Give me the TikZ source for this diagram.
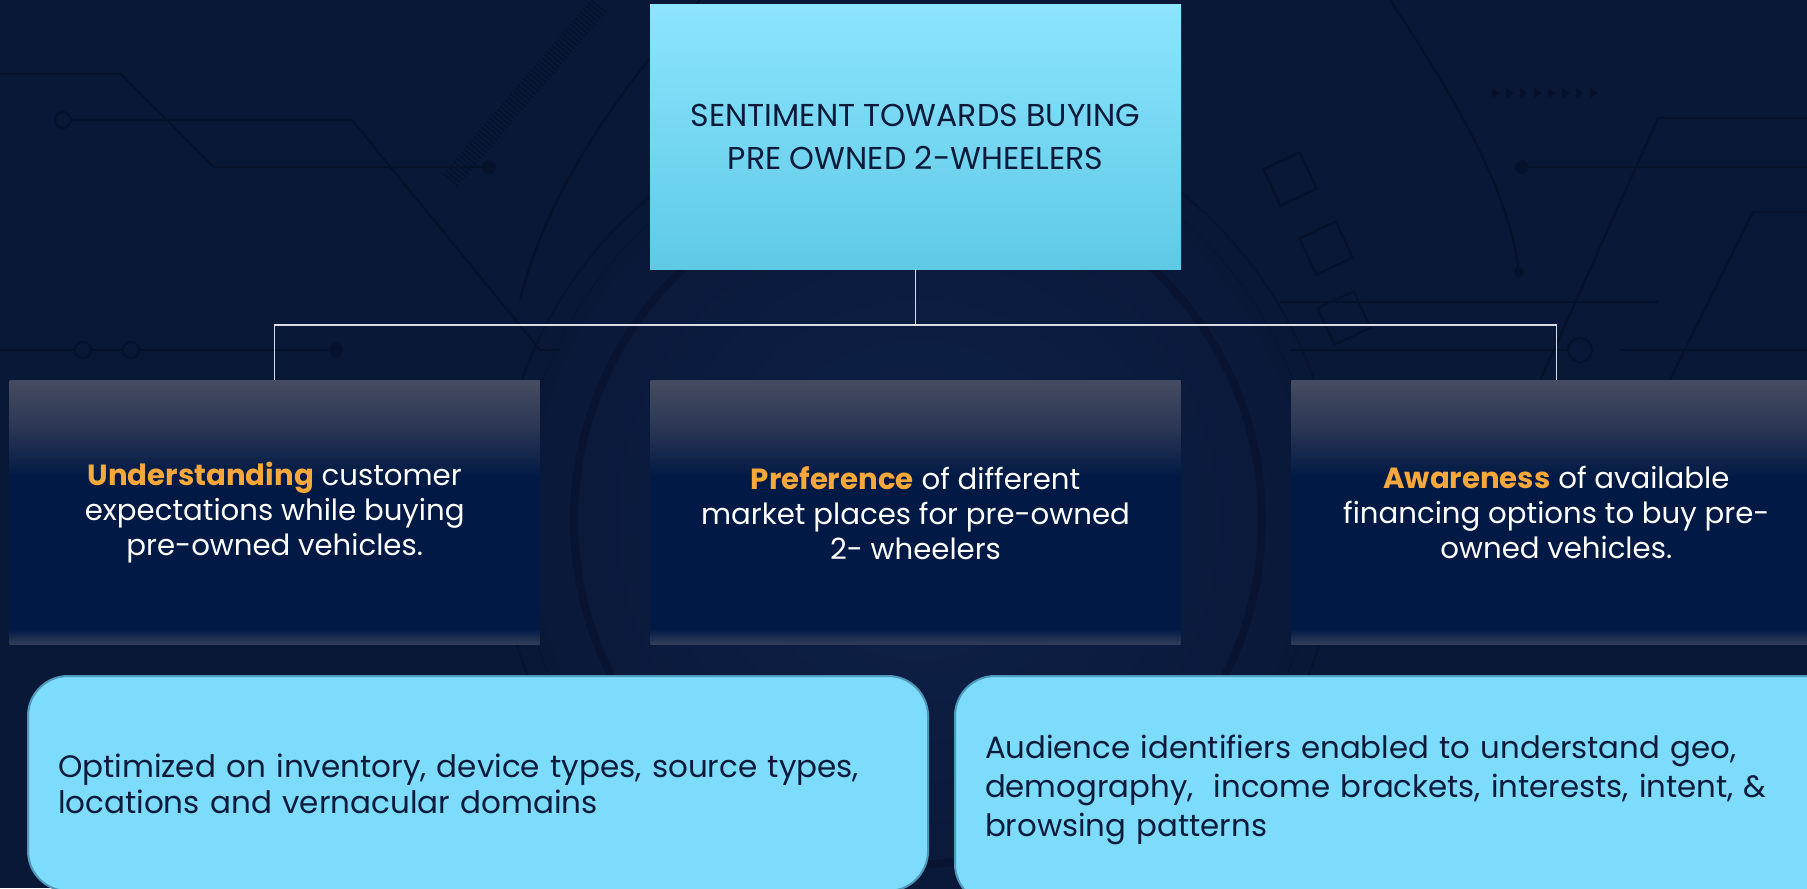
\documentclass[tikz,border=0pt]{standalone}
\usepackage{fontspec}
\setmainfont{Poppins}
\usetikzlibrary{positioning,calc}

\definecolor{bgnavy}{HTML}{0A1838}
\definecolor{glow}{HTML}{0E2248}
\definecolor{trace}{HTML}{06112C}
\definecolor{skytop}{HTML}{8CE4FE}
\definecolor{skybot}{HTML}{5FCAE6}
\definecolor{inkblue}{HTML}{0D1B3B}
\definecolor{cardtop}{HTML}{454C61}
\definecolor{cardmid}{HTML}{2B3653}
\definecolor{carddeep}{HTML}{011A45}
\definecolor{cardrim}{HTML}{343F5A}
\definecolor{accent}{HTML}{F7A83B}
\definecolor{panelfill}{HTML}{7DDCFC}
\definecolor{panelline}{HTML}{4E98BA}
\definecolor{wirecol}{HTML}{D9DEE6}

% dark card: grey top fading into navy, thin lighter rim at the bottom
\pgfdeclareverticalshading{cardshade}{100bp}{color(0bp)=(cardrim); color(25bp)=(cardrim);
  color(28bp)=(carddeep); color(57bp)=(carddeep); color(66bp)=(cardmid);
  color(75bp)=(cardtop); color(100bp)=(cardtop)}

\tikzset{
  headbox/.style={minimum width=265.5pt, minimum height=132pt, inner sep=0pt,
    top color=skytop, bottom color=skybot, text=inkblue, align=center,
    font=\fontsize{15.8}{21.5}\selectfont},
  card/.style={minimum width=265pt, minimum height=132pt, inner sep=0pt,
    shading=cardshade, text=white, align=center,
    font=\fontsize{14.6}{17.5}\selectfont},
  panel/.style={rounded corners=20pt, fill=panelfill, draw=panelline, line width=1pt,
    minimum height=107.5pt, inner xsep=15pt, text width=420pt, align=left,
    text=inkblue},
  wire/.style={wirecol, line width=0.7pt},
  tracks/.style={trace, line width=1.1pt},
}

\begin{document}
\begin{tikzpicture}[x=0.5pt, y=-0.5pt]
  \useasboundingbox (0,0) rectangle (1807,888);
  \clip (0,0) rectangle (1807,888);
  \fill[bgnavy] (0,0) rectangle (1807,888);

  % circuit board backdrop
  \fill[inner color=glow, outer color=bgnavy] (918,520) circle (200pt);
  \draw[trace, line width=4pt, opacity=0.6] (918,520) circle (172pt);
  \draw[tracks, opacity=0.7] (918,520) circle (210pt);
  \draw[trace, line width=10pt, dash pattern=on 0.6pt off 1.4pt] (450,180) -- (600,4);
  \draw[tracks] (0,74) -- (121,74) -- (214,167) -- (488,167);
  \fill[trace] (489,167) circle (3.5pt);
  \draw[tracks] (63,120) circle (4pt);
  \draw[tracks] (71,120) -- (352,120) -- (540,350) -- (560,350);
  \draw[tracks] (0,350) -- (75,350);
  \draw[tracks] (83,350) circle (4pt);
  \draw[tracks] (91,350) -- (123,350);
  \draw[tracks] (131,350) circle (4pt);
  \draw[tracks] (139,350) -- (336,350);
  \fill[trace] (336,350) circle (3.5pt);
  \draw[tracks] (1522,167) -- (1807,167);
  \fill[trace] (1522,167) circle (3.5pt);
  \fill[trace] (1519,272) circle (2.5pt);
  \draw[tracks] (1807,118) -- (1658,118) -- (1500,470);
  \draw[tracks] (1807,212) -- (1753,212) -- (1660,400);
  \draw[tracks] (1280,302) -- (1658,302);
  \draw[tracks] (1290,350) -- (1567,350);
  \draw[tracks] (1580,350) circle (6pt);
  \draw[tracks] (1807,350) -- (1620,350);
  \draw[tracks] (1390,0) .. controls (1470,120) and (1510,200) .. (1519,272);
  \draw[tracks] (700,0) .. controls (590,120) and (540,220) .. (520,300);
  \foreach \k in {0,...,7}
    \fill[trace] (1492+\k*14,88) -- ++(8,5) -- ++(-8,5) -- cycle;
  \foreach \cx/\cy in {1290/179, 1326/248, 1344/318}
    \draw[tracks, rotate around={25:(\cx,\cy)}] (\cx-20,\cy-20) rectangle (\cx+20,\cy+20);

  % title box and the three topics
  \node[headbox] (root) at (915.5,137) {SENTIMENT TOWARDS BUYING\\PRE OWNED 2-WHEELERS};
  \node[card, below=55.5pt of root] (prefer)
    {\textcolor{accent}{\bfseries Preference} of different\\market places for pre-owned\\2- wheelers};
  \node[card, left=55pt of prefer] (understand)
    {\textcolor{accent}{\bfseries Understanding} customer\\expectations while buying\\pre-owned vehicles.};
  \node[card, right=55pt of prefer] (aware)
    {\textcolor{accent}{\bfseries Awareness} of available\\financing options to buy pre-\\owned vehicles.};

  \coordinate (bus) at (915.5,325);
  \draw[wire] (root.south) -- (bus);
  \draw[wire] (understand.north) |- (bus) -| (aware.north);

  % notes along the bottom
  \node[panel, font=\fontsize{15.5}{18}\selectfont] (optim) at (478,783.5)
    {Optimized on inventory, device types, source types,\\locations and vernacular domains};
  \node[panel, font=\fontsize{15.4}{19.5}\selectfont, minimum height=114pt, anchor=north west]
    (audience) at ([xshift=12.5pt]optim.north east)
    {Audience identifiers enabled to understand geo,\\demography,\ \ income brackets, interests, intent, \&\\browsing patterns};
\end{tikzpicture}
\end{document}
